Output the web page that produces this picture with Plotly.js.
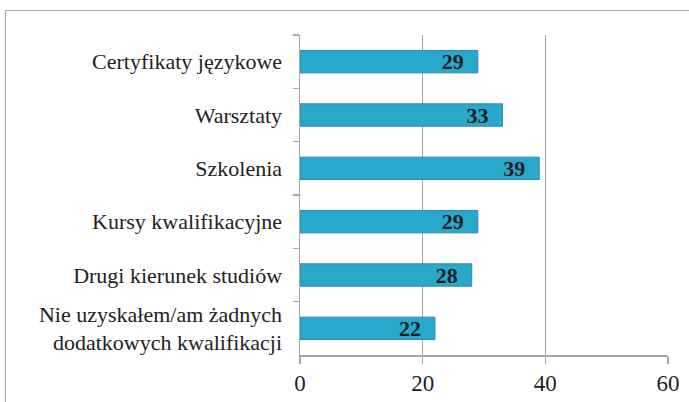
<!DOCTYPE html>
<html><head><meta charset="utf-8">
<script src="https://cdn.plot.ly/plotly-3.0.1.min.js"></script>
<style>
html,body{margin:0;padding:0;background:#fff;width:689px;height:402px;overflow:hidden;}
#frame{position:absolute;left:5px;top:10px;width:720px;height:420px;border:1.5px solid #a6a6a6;box-sizing:border-box;}
#chart{position:absolute;left:0;top:0;width:689px;height:402px;}
</style></head>
<body>
<div id="frame"></div>
<div id="chart"></div>
<script>
const categories = ["Certyfikaty językowe","Warsztaty","Szkolenia","Kursy kwalifikacyjne","Drugi kierunek studiów","Nie uzyskałem/am żadnych<br>dodatkowych kwalifikacji"];
const values = [29, 33, 39, 29, 28, 22];
const xTicks = [0, 20, 40, 60];
const SERIF = "'Liberation Serif', 'Times New Roman', 'DejaVu Serif', serif";

const trace = {
  type: 'bar', orientation: 'h',
  y: categories, x: values,
  text: values.map(v => v + '\u2002'),
  textposition: 'inside', insidetextanchor: 'end', textangle: 0,
  constraintext: 'none',
  insidetextfont: {family: SERIF, size: 22, color: '#1e1e1e', weight: 'bold'},
  marker: {color: '#28a8cb', line: {color: '#2a8bab', width: 1}},
  width: 0.42, cliponaxis: false, hoverinfo: 'none'
};
const layout = {
  width: 689, height: 402,
  margin: {l: 300, r: 21, t: 35, b: 47},
  paper_bgcolor: 'rgba(0,0,0,0)', plot_bgcolor: 'rgba(0,0,0,0)',
  showlegend: false,
  font: {family: SERIF, color: '#222'},
  xaxis: {range: [0, 60], tickvals: xTicks, ticktext: xTicks.map(String),
    showgrid: true, gridcolor: '#a6a6a6', gridwidth: 1.5,
    showline: true, linecolor: '#a6a6a6', linewidth: 1.5,
    ticks: 'outside', ticklen: 7, tickcolor: '#a6a6a6', tickwidth: 1.5,
    tickfont: {family: SERIF, size: 23, color: '#222'}, zeroline: false, fixedrange: true},
  yaxis: {autorange: 'reversed', type: 'category',
    showline: true, linecolor: '#a6a6a6', linewidth: 1.5,
    ticks: 'outside', ticklen: 6, tickcolor: '#a6a6a6', tickwidth: 1.5, tickson: 'boundaries',
    ticklabelstandoff: 12,
    tickfont: {family: SERIF, size: 22, color: '#222'}, showgrid: false, fixedrange: true}
};
Plotly.newPlot('chart', [trace], layout, {staticPlot: true});
</script>
</body></html>
